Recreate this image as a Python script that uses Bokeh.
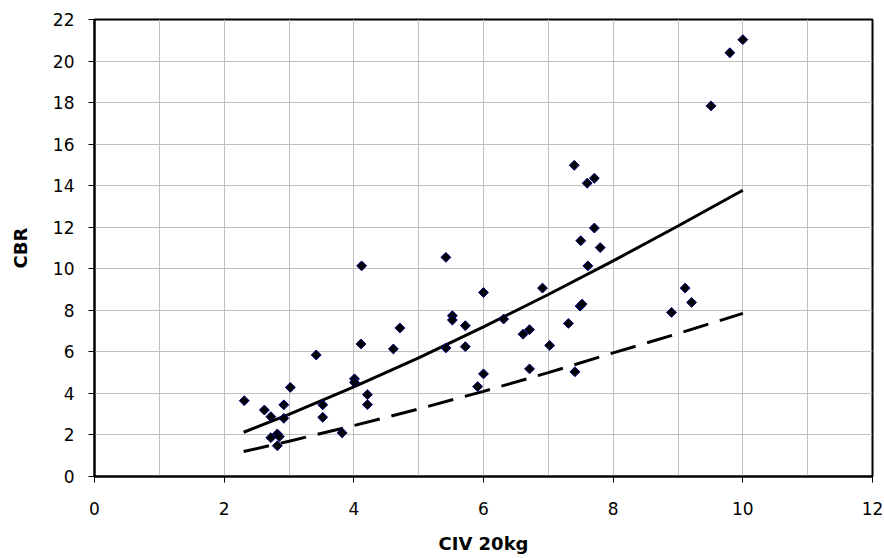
from bokeh.plotting import figure
from bokeh.models import FixedTicker, Range1d
from bokeh.embed import file_html
from bokeh.resources import INLINE

civ = [2.31, 2.62, 2.72, 2.92, 2.92, 3.02, 2.72, 2.82, 2.85, 2.82,
       3.42, 3.52, 3.52, 3.82, 4.01, 4.01, 4.11, 4.21, 4.21, 4.12,
       4.61, 4.71, 5.42, 5.52, 5.52, 5.72, 5.42, 5.72, 6.00, 6.00,
       5.91, 6.31, 6.61, 6.71, 6.71, 6.91, 7.02, 7.31, 7.41, 7.49,
       7.52, 7.50, 7.80, 7.61, 7.40, 7.60, 7.71, 7.71, 8.90, 9.11,
       9.21, 9.51, 9.80, 10.00]
cbr = [3.65, 3.20, 2.88, 3.45, 2.80, 4.29, 1.87, 2.05, 1.92, 1.48,
       5.85, 3.45, 2.85, 2.10, 4.70, 4.53, 6.38, 3.94, 3.46, 10.14,
       6.14, 7.15, 10.55, 7.74, 7.53, 7.26, 6.19, 6.25, 8.86, 4.94,
       4.33, 7.58, 6.85, 7.07, 5.18, 9.07, 6.31, 7.37, 5.04, 8.20,
       8.30, 11.35, 11.02, 10.14, 14.98, 14.12, 14.36, 11.96, 7.90, 9.07,
       8.38, 17.84, 20.40, 21.03]

trend_x = [2.3, 3, 4, 5, 6, 7, 8, 9, 10]
trend_upper = [2.13, 2.99, 4.31, 5.71, 7.20, 8.76, 10.38, 12.06, 13.78]
trend_lower = [1.20, 1.70, 2.45, 3.25, 4.10, 5.00, 5.95, 6.88, 7.85]

x_ticks = [0, 2, 4, 6, 8, 10, 12]
x_grid = [1, 2, 3, 4, 5, 6, 7, 8, 9, 10, 11]
y_ticks = [0, 2, 4, 6, 8, 10, 12, 14, 16, 18, 20, 22]

FONT = "DejaVu Sans"

p = figure(width=884, height=558, output_backend="svg", toolbar_location=None,
           x_range=Range1d(0, 12), y_range=Range1d(0, 22),
           min_border_left=94, min_border_right=12, min_border_top=19,
           min_border_bottom=82)

p.outline_line_color = "black"
p.outline_line_width = 2

p.xaxis.ticker = FixedTicker(ticks=x_ticks)
p.yaxis.ticker = FixedTicker(ticks=y_ticks)
p.xgrid.ticker = FixedTicker(ticks=x_grid)
p.ygrid.ticker = FixedTicker(ticks=y_ticks)
for g in (p.xgrid, p.ygrid):
    g.grid_line_color = "#c0c0c0"
    g.grid_line_width = 1

for ax in (p.xaxis, p.yaxis):
    ax.axis_line_color = "black"
    ax.axis_line_width = 2
    ax.major_tick_line_color = "black"
    ax.major_tick_line_width = 1
    ax.major_tick_out = 6
    ax.major_tick_in = 0
    ax.minor_tick_line_color = None
    ax.major_label_text_font = FONT
    ax.major_label_text_font_size = "17px"
    ax.major_label_text_color = "black"
    ax.axis_label_text_font = FONT
    ax.axis_label_text_font_size = "18px"
    ax.axis_label_text_font_style = "bold"
    ax.axis_label_text_color = "black"

p.xaxis.axis_label = "CIV 20kg"
p.yaxis.axis_label = "CBR"
p.xaxis.major_label_standoff = 19
p.yaxis.major_label_standoff = 14
p.xaxis.axis_label_standoff = 15
p.yaxis.axis_label_standoff = 19

p.line(trend_x, trend_upper, line_color="black", line_width=3)
p.line(trend_x, trend_lower, line_color="black", line_width=3, line_dash="26 12")

p.scatter(civ, cbr, marker="square", angle=0.785398, size=7,
          fill_color="black", line_color="#000080", line_width=1)

open("out.html", "w").write(file_html(p, INLINE))
